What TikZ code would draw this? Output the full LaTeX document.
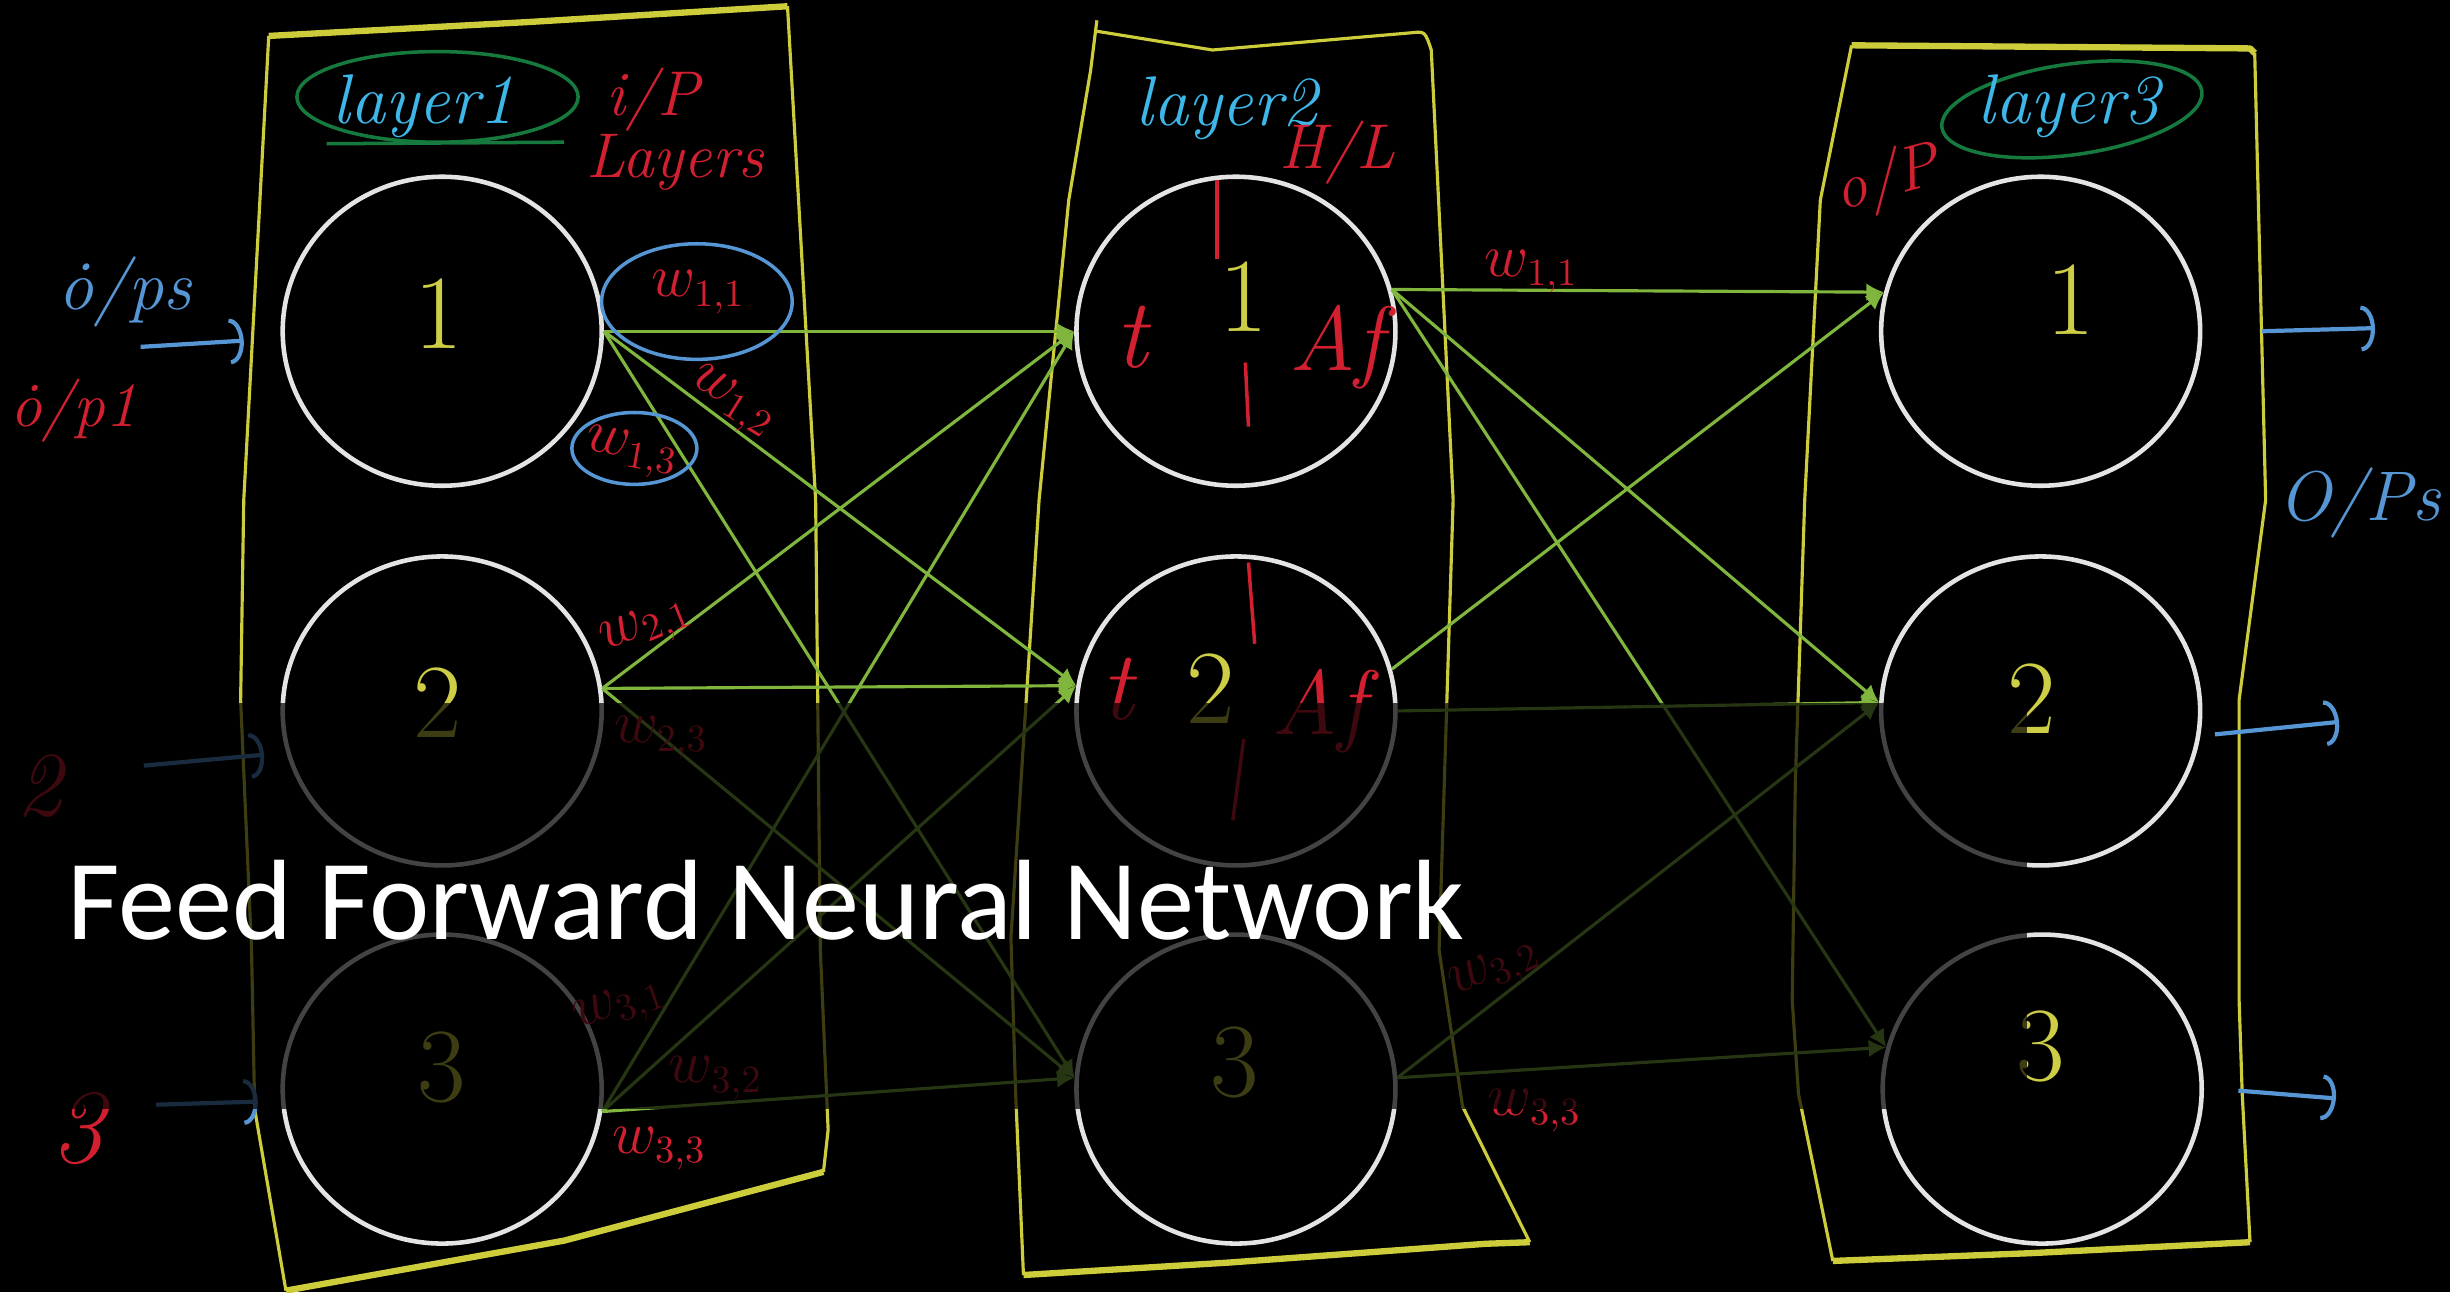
\documentclass[tikz,border=0pt]{standalone}
\usepackage{fontspec}
\newfontfamily\titlefont{Carlito}
\usetikzlibrary{shapes.geometric,arrows.meta}

\definecolor{boxyellow}{RGB}{205,205,60}
\definecolor{wirewhite}{RGB}{228,228,228}
\definecolor{edgegreen}{RGB}{128,182,62}
\definecolor{inkred}{RGB}{210,32,48}
\definecolor{inkblue}{RGB}{86,150,212}
\definecolor{layerblue}{RGB}{62,182,232}
\definecolor{ovalgreen}{RGB}{22,122,62}
\definecolor{digityellow}{RGB}{205,205,70}

\begin{document}
\begin{tikzpicture}
[
    x=0.015625cm, y=-0.015625cm,
    neuron/.style={draw=wirewhite, line width=1.3pt, ellipse, inner sep=0pt,
                   minimum width=3.19cm, minimum height=3.09cm},
    digit/.style={text=digityellow, font=\fontsize{30}{32}\selectfont, inner sep=0pt},
    edge/.style={draw=edgegreen, line width=0.9pt, -{Latex[length=5pt,width=5pt]}},
    inarrow/.style={draw=inkblue, line width=1.2pt, -{Arc Barb[length=4pt,width=13pt]}},
    boxline/.style={draw=boxyellow, line width=0.9pt, line join=round},
    boxedge/.style={draw=boxyellow, line width=1.8pt, line join=round},
    weight/.style={text=inkred, font=\fontsize{16}{18}\selectfont, inner sep=0pt},
    note/.style={text=inkred, font=\itshape\fontsize{18}{20}\selectfont, inner sep=0pt},
    layername/.style={text=layerblue, font=\itshape\fontsize{20}{22}\selectfont, inner sep=0pt},
    blueink/.style={text=inkblue, font=\itshape\fontsize{20}{22}\selectfont, inner sep=0pt},
    oval/.style={draw=ovalgreen, line width=1pt},
    wring/.style={draw=inkblue, line width=1pt},
    redline/.style={draw=inkred, line width=1pt},
]
% background
\fill[black] (0,0) rectangle (1568,827);
\useasboundingbox (0,0) rectangle (1568,827);

% layer boxes
\draw[boxline] (172,23) -- (156,320) -- (154,448) -- (161,608) -- (163,710) -- (183,826);
\draw[boxedge] (183,826) -- (361,794) -- (527,750);
\draw[boxline] (527,750) -- (530,723) -- (525,608) -- (522,320) -- (504,4);
\draw[boxedge] (504,4) -- (340,14) -- (172,23);

\draw[boxline] (702,13) -- (698,45) -- (684,128) -- (665,320) -- (647,600) -- (650,700) -- (655,816);
\draw[boxedge] (655,816) -- (787,808) -- (951,796) -- (979,795);
\draw[boxline] (979,795) -- (936,708) -- (921,608) -- (930,320) -- (916,32)
    .. controls (912,20) .. (903,21) -- (776,32) -- (702,20);

\draw[boxline] (1185,29) -- (1165,128) -- (1155,320) -- (1149,500) -- (1147,640) -- (1151,700) -- (1173,807);
\draw[boxedge] (1173,807) -- (1300,802) -- (1440,795);
\draw[boxline] (1440,795) -- (1435,700) -- (1433,640) -- (1433,448) -- (1450,320) -- (1443,34);
\draw[boxedge] (1443,34) -- (1440,31) -- (1185,29);

% neurons
\node[neuron] (l1n1) at (283,212) {};
\node[neuron] (l1n2) at (283,455) {};
\node[neuron] (l1n3) at (283,697) {};
\node[neuron] (l2n1) at (791,212) {};
\node[neuron] (l2n2) at (791,455) {};
\node[neuron] (l2n3) at (791,697) {};
\node[neuron] (l3n1) at (1306,212) {};
\node[neuron] (l3n2) at (1306,455) {};
\node[neuron] (l3n3) at (1307,697) {};

\node[digit] (d11) at (281,201) {1};
\node[digit] (d12) at (280,450) {2};
\node[digit] (d13) at (283,683) {3};
\node[digit] (d21) at (796,190) {1};
\node[digit] (d22) at (775,441) {2};
\node[digit] (d23) at (790,680) {3};
\node[digit] (d31) at (1325,192) {1};
\node[digit] (d32) at (1300,447) {2};
\node[digit] (d33) at (1306,670) {3};

% connections layer 1 -> layer 2
\draw[edge] (l1n1.east) -- (l2n1.west);
\draw[edge] (l1n1.east) -- (l2n2.171);
\draw[edge] (l1n1.east) -- (l2n3.176);
\draw[edge] (l1n2.8) -- (l2n1.west);
\draw[edge] (l1n2.8) -- (l2n2.171);
\draw[edge] (l1n2.8) -- (l2n3.176);
\draw[edge] (l1n3.352) -- (l2n1.west);
\draw[edge] (l1n3.352) -- (l2n2.171);
\draw[edge] (l1n3.352) -- (l2n3.176);

% connections layer 2 -> layer 3
\draw[edge] (l2n1.15) -- (l3n1.166);
\draw[edge] (l2n1.15) -- (l3n2.177);
\draw[edge] (l2n1.15) -- (l3n3.165);
\draw[edge] (l2n2.15) -- (l3n1.166);
\draw[edge] (l2n2.east) -- (l3n2.177);
\draw[edge] (l2n3.4) -- (l3n2.177);
\draw[edge] (l2n3.4) -- (l3n3.165);

% weights
\draw[wring] (446,193) ellipse [x radius=61, y radius=37];
\draw[wring] (406,287) ellipse [x radius=40, y radius=23];
\node[weight] (w11) at (447,187) {$w_{1,1}$};
\node[weight, rotate=-32] (w12) at (468,258) {$w_{1,2}$};
\node[weight, rotate=-10] (w13) at (404,290) {$w_{1,3}$};
\node[weight, rotate=22] (w21) at (414,402) {$w_{2,1}$};
\node[weight] (w23) at (423,472) {$w_{2,3}$};
\node[weight, rotate=20] (w31) at (397,645) {$w_{3,1}$};
\node[weight] (w32) at (458,690) {$w_{3,2}$};
\node[weight] (w33) at (422,735) {$w_{3,3}$};
\node[weight] (v11) at (980,174) {$w_{1,1}$};
\node[weight, rotate=25] (v32) at (957,622) {$w_{3,2}$};
\node[weight] (v33) at (982,711) {$w_{3,3}$};

% hidden neuron notes
\draw[redline] (779,115) -- (779,166);
\draw[redline] (797,232) -- (799,273);
\node[note, font=\itshape\fontsize{28}{30}\selectfont] (t1) at (724,216) {t};
\node[note, font=\itshape\fontsize{26}{28}\selectfont] (af1) at (855,222) {Af};
\draw[redline] (799,360) -- (803,412);
\draw[redline] (796,473) -- (789,525);
\node[note, font=\itshape\fontsize{28}{30}\selectfont] (t2) at (715,441) {t};
\node[note, font=\itshape\fontsize{26}{28}\selectfont] (af2) at (844,455) {Af};

% layer titles
\draw[oval] (280,62) ellipse [x radius=90, y radius=29];
\draw[oval] (209,92) -- (361,91);
\node[layername] (lay1) at (271,68) {layer1};
\node[layername] (lay2) at (785,69) {layer2};
\draw[oval, rotate around={8:(1326,70)}] (1326,70) ellipse [x radius=84, y radius=29];
\node[layername] (lay3) at (1324,68) {layer3};
\node[note] (ip) at (418,64) {i/P};
\node[note] (iplayers) at (432,104) {Layers};
\node[note] (hl) at (856,98) {H/L};
\node[note, rotate=15] (op) at (1208,116) {o/P};

% inputs
\node[blueink] (ips) at (80,187) {\.{o}/ps};
\node[note] (ip1) at (47,263) {\.{o}/p1};
\node[note, font=\itshape\fontsize{26}{28}\selectfont] (in2) at (25,503) {2};
\node[note, font=\itshape\fontsize{30}{32}\selectfont] (in3) at (50,722) {3};
\coordinate (a1) at (90,222);
\coordinate (a2) at (92,490);
\coordinate (a3) at (100,707);
\draw[inarrow] (a1) -- (156,218);
\draw[inarrow] (a2) -- (169,483);
\draw[inarrow] (a3) -- (165,705);

% outputs
\coordinate (b1) at (1520,210);
\coordinate (b2) at (1497,462);
\coordinate (b3) at (1495,703);
\draw[inarrow] (l3n1.east) ++(38,0) -- (b1);
\draw[inarrow] (l3n2.east) ++(8,15) -- (b2);
\draw[inarrow] (l3n3.east) ++(22,1) -- (b3);
\node[blueink] (ops) at (1510,322) {O/Ps};

% title band
\fill[black, fill opacity=0.7] (0,450) rectangle (1297,710);
\node[anchor=base west, text=white, inner sep=0pt,
      font=\titlefont\fontsize{32.5}{36}\selectfont] (title) at (43,601) {Feed Forward Neural Network};
\end{tikzpicture}
\end{document}
